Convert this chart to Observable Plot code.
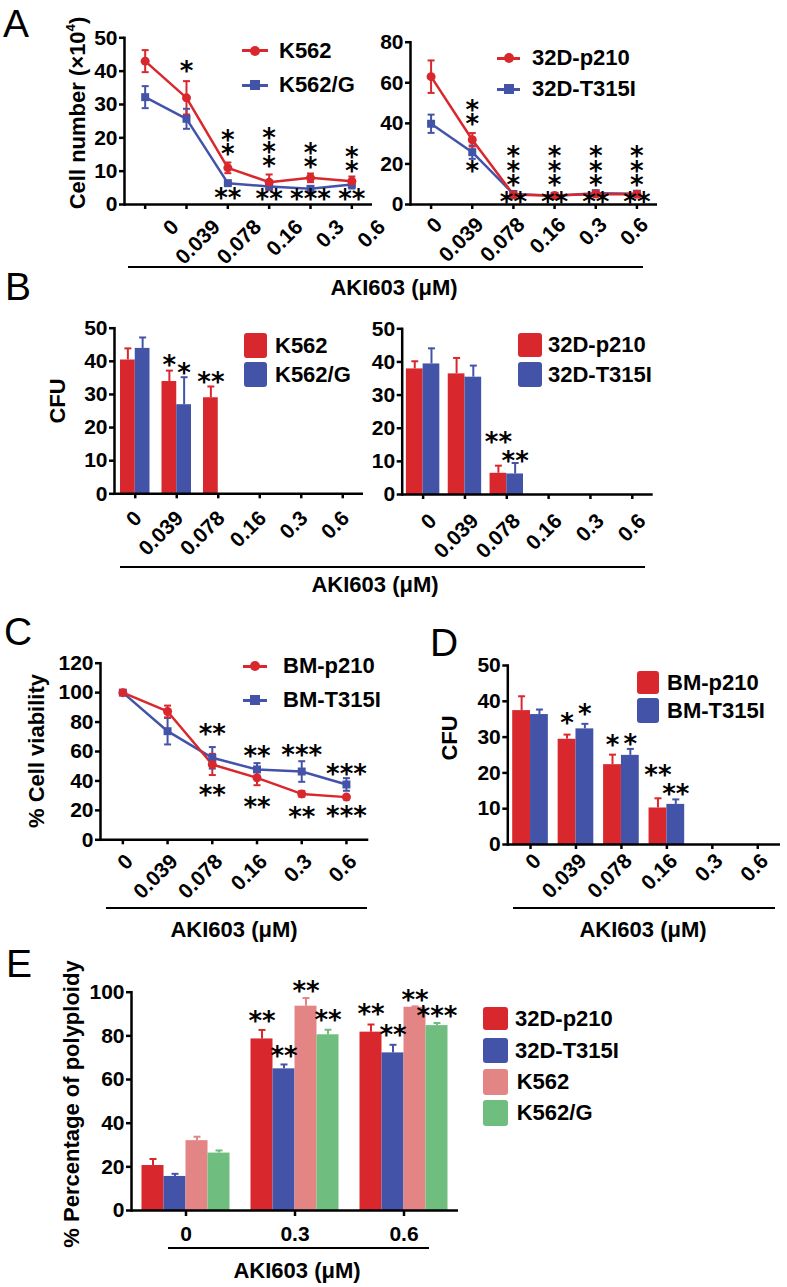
<!DOCTYPE html>
<html><head><meta charset="utf-8">
<script src="https://cdn.jsdelivr.net/npm/d3@7"></script>
<script src="https://cdn.jsdelivr.net/npm/@observablehq/plot@0.6"></script>
<style>
html,body{margin:0;padding:0;background:#fff}
#root{position:relative;width:787px;height:1287px;overflow:hidden;font-family:"Liberation Sans",Arial,Helvetica,sans-serif;color:#000}
#root > *{position:absolute}
</style></head><body><div id="root"></div>
<script>
// ---------- data ----------
const doses = ["0","0.039","0.078","0.16","0.3","0.6"];
// A: cell number (x10^4)
const cellK562 = [43, 32, 11, 6.7, 8, 7];
const cellK562Err = [3.3, 5, 1.6, 2.3, 1.3, 1.4];
const cellK562G = [32.2, 25.7, 6.4, 5.4, 4.7, 6];
const cellK562GErr = [3.3, 3, 0.6, 0.6, 0.6, 1.2];
const cellP210 = [63, 31.9, 4.8, 4.4, 5.2, 5];
const cellP210Err = [8, 3.3, 0.8, 0.8, 0.8, 0.8];
const cellT315I = [39.8, 25.8, 5.2, 4.3, 5.6, 5.3];
const cellT315IErr = [4.5, 3.3, 0.8, 0.6, 0.8, 0.6];
const starsA1 = [
  {dose:"0.039", y:40.7, t:"*"},
  {dose:"0.078", y:18, t:"*\n*"}, {dose:"0.078", y:2.6, t:"**"},
  {dose:"0.16", y:16.5, t:"*\n*\n*"}, {dose:"0.16", y:2.4, t:"**"},
  {dose:"0.3", y:14.2, t:"*\n*"}, {dose:"0.3", y:2.4, t:"***"},
  {dose:"0.6", y:13, t:"*\n*"}, {dose:"0.6", y:2.4, t:"**"}
];
const starsA2 = [
  {dose:"0.039", y:44.4, t:"*\n*"}, {dose:"0.039", y:17.6, t:"*"},
  {dose:"0.078", y:18, t:"*\n*\n*"}, {dose:"0.078", y:2.3, t:"**"},
  {dose:"0.16", y:18, t:"*\n*\n*"}, {dose:"0.16", y:2.3, t:"**"},
  {dose:"0.3", y:18, t:"*\n*\n*"}, {dose:"0.3", y:2.3, t:"**"},
  {dose:"0.6", y:18, t:"*\n*\n*"}, {dose:"0.6", y:2.3, t:"**"}
];
// B: CFU
const cfuK562 = [40.4, 33.9, 29, 0, 0, 0];
const cfuK562Err = [3.5, 3.3, 3.4, 0, 0, 0];
const cfuK562G = [43.9, 26.9, 0, 0, 0, 0];
const cfuK562GErr = [3.3, 8.3, 0, 0, 0, 0];
const cfuP210 = [37.9, 36.4, 6.4, 0, 0, 0];
const cfuP210Err = [2.3, 4.8, 2.3, 0, 0, 0];
const cfuT315I = [39.4, 35.4, 6.2, 0, 0, 0];
const cfuT315IErr = [4.7, 3.5, 3.3, 0, 0, 0];
const starsB1 = [
  {dose:"0.039", series:"K562", y:39.8, t:"*"},
  {dose:"0.039", series:"K562/G", y:37.4, t:"*"},
  {dose:"0.078", series:"K562", y:34.5, t:"**"}
];
const starsB2 = [
  {dose:"0.078", series:"32D-p210", y:16.5, t:"**"},
  {dose:"0.078", series:"32D-T315I", y:10.8, t:"**"}
];
// C: BM viability
const viaP210 = [100, 87.2, 51.2, 42.1, 31.2, 29];
const viaP210Err = [1, 4, 7.2, 5, 2, 1.5];
const viaT315I = [100, 73.8, 55.7, 47.8, 46.4, 37.6];
const viaT315IErr = [1, 9, 7.3, 4.3, 7, 4.3];
const starsC = [
  {dose:"0.078", y:73.8, t:"**"}, {dose:"0.078", y:31.9, t:"**"},
  {dose:"0.16", y:58.4, t:"**"}, {dose:"0.16", y:24, t:"**"},
  {dose:"0.3", y:59.1, t:"***"}, {dose:"0.3", y:17.2, t:"**"},
  {dose:"0.6", y:46.4, t:"***"}, {dose:"0.6", y:18.1, t:"***"}
];
// D: BM CFU
const bmCfuP210 = [37.4, 29.4, 22.3, 10.2, 0, 0];
const bmCfuP210Err = [4, 1.3, 2.8, 2.7, 0, 0];
const bmCfuT315I = [36.3, 32.3, 24.9, 11.2, 0, 0];
const bmCfuT315IErr = [1.4, 1.4, 1.8, 1.4, 0, 0];
const starsD = [
  {dose:"0.039", series:"BM-p210", y:34.6, t:"*"}, {dose:"0.039", series:"BM-T315I", y:37.2, t:"*"},
  {dose:"0.078", series:"BM-p210", y:28.4, t:"*"}, {dose:"0.078", series:"BM-T315I", y:28.8, t:"*"},
  {dose:"0.16", series:"BM-p210", y:20.2, t:"**"}, {dose:"0.16", series:"BM-T315I", y:14.8, t:"**"}
];
// E: polyploidy
const dosesE = ["0","0.3","0.6"];
const polyP210 = [20.6, 78.6, 81.7];
const polyP210Err = [3, 4.1, 3.5];
const polyT315I = [15.6, 64.9, 72.2];
const polyT315IErr = [1.2, 2, 3.7];
const polyK562 = [32, 93.6, 93.1];
const polyK562Err = [1.8, 3.7, 0.4];
const polyK562G = [26.3, 80.5, 84.7];
const polyK562GErr = [1.2, 2.3, 1.2];
const starsE = [
  {dose:"0.3", series:"32D-p210", y:88, t:"**"},
  {dose:"0.3", series:"32D-T315I", y:71.8, t:"**"},
  {dose:"0.3", series:"K562", y:101.8, t:"**"},
  {dose:"0.3", series:"K562/G", y:88.5, t:"**"},
  {dose:"0.6", series:"32D-p210", y:91.3, t:"**"},
  {dose:"0.6", series:"32D-T315I", y:81.4, t:"**"},
  {dose:"0.6", series:"K562", y:97.4, t:"**"},
  {dose:"0.6", series:"K562/G", y:90.4, t:"***"}
];

// ---------- style ----------
const RED="#d9282d", BLUE="#4354a8", PINK="#e48585", GREEN="#70be7f";
const FONT='"Liberation Sans", Arial, Helvetica, sans-serif';
const STARFONT='"DejaVu Sans", sans-serif';
const TICKFS=21;
const root=document.getElementById("root");
const capSymbol={draw(ctx){ctx.moveTo(-3.5,0);ctx.lineTo(3.5,0);}};

function put(el,left,top){el.style.left=left+"px";el.style.top=top+"px";root.appendChild(el);return el;}
function textAt(html,x,yMid,o={}){
  const fs=o.fs||22;
  const d=document.createElement("div");
  d.innerHTML=html;
  d.style.fontSize=fs+"px";d.style.lineHeight="1";d.style.whiteSpace="nowrap";
  d.style.fontWeight=o.weight||"bold";
  if(o.rotate){d.style.transform="translate(-50%,-50%) rotate(-90deg)";put(d,x,yMid);}
  else{if(o.anchor==="middle")d.style.transform="translateX(-50%)";put(d,x,yMid-0.4885*fs);}
  return d;
}
function hline(x0,x1,y,w=2.5){const d=document.createElement("div");d.style.width=(x1-x0)+"px";d.style.height=w+"px";d.style.background="#000";put(d,x0,y-w/2);}
function lineKey(x0,x1,y,color,shape,textX,label){
  const l=document.createElement("div");l.style.width=(x1-x0)+"px";l.style.height="3px";l.style.background=color;put(l,x0,y-1.5);
  const m=document.createElement("div");const s=10;m.style.width=s+"px";m.style.height=s+"px";m.style.background=color;
  if(shape==="circle")m.style.borderRadius="50%";put(m,(x0+x1)/2-s/2,y-s/2);
  textAt(label,textX,y,{fs:22});
}
function boxKey(x0,x1,y0,y1,color,textX,label){
  const b=document.createElement("div");b.style.width=(x1-x0)+"px";b.style.height=(y1-y0)+"px";b.style.background=color;b.style.borderRadius="3px";put(b,x0,y0);
  textAt(label,textX,(y0+y1)/2,{fs:22});
}

function frameOpts(c){return {width:c.w,height:c.h,marginLeft:c.x0-c.left,marginRight:c.left+c.w-c.x1,marginTop:c.y0-c.top,marginBottom:c.top+c.h-c.y1,
  style:{fontFamily:FONT,fontWeight:"bold",fontSize:TICKFS+"px",color:"#000",background:"transparent",overflow:"visible"}};}
function axes(c){
  return [
    Plot.ruleY([0],{strokeWidth:2.5}),
    Plot.frame({anchor:"left",strokeWidth:2.5}),
    Plot.axisY({ticks:c.yticks,tickSize:5,tickPadding:2,strokeWidth:2.5,label:null,fontSize:TICKFS,fontWeight:"bold",fontFamily:FONT}),
    Plot.axisX({tickSize:c.rotate===false?6:5,strokeWidth:2.5,tickFormat:()=>"",label:null}),
    c.rotate===false
      ? Plot.axisX({tickSize:0,tickPadding:c.tickPad,label:null,fontSize:TICKFS,fontWeight:"bold",fontFamily:FONT})
      : Plot.axisX({tickSize:0,tickPadding:c.tickPad,tickRotate:-45,dx:c.tickDx,label:null,fontSize:TICKFS,fontWeight:"bold",fontFamily:FONT})
  ];
}
function starMark(data,dx=0){
  return Plot.text(data,{x:"dose",y:"y",text:"t",fontFamily:STARFONT,fontSize:26,fontWeight:"bold",lineHeight:0.55,dx,dy:7,fill:"#000"});
}
function linePanel(c){
  const rows=[];
  c.series.forEach(s=>doses.forEach((d,i)=>rows.push({dose:d,value:s.values[i],err:s.errs[i],series:s.name})));
  const names=c.series.map(s=>s.name);
  const p=Plot.plot({...frameOpts(c),
    x:{type:"point",domain:doses,padding:0.5,round:false},
    y:{domain:[0,c.ymax]},
    color:{domain:names,range:c.series.map(s=>s.color)},
    symbol:{domain:names,range:c.series.map(s=>s.symbol)},
    marks:[...axes(c),
      Plot.ruleX(rows,{x:"dose",y1:d=>d.value-d.err,y2:d=>d.value+d.err,stroke:"series",strokeWidth:2}),
      Plot.dot(rows,{x:"dose",y:d=>d.value+d.err,symbol:capSymbol,stroke:"series",strokeWidth:2,r:3}),
      Plot.dot(rows,{x:"dose",y:d=>d.value-d.err,symbol:capSymbol,stroke:"series",strokeWidth:2,r:3}),
      Plot.line(rows,{x:"dose",y:"value",z:"series",stroke:"series",strokeWidth:2.5}),
      Plot.dot(rows,{x:"dose",y:"value",symbol:"series",fill:"series",r:4.5}),
      starMark(c.stars)
    ]});
  put(p,c.left,c.top);
}
function barPanel(c){
  const cats=c.cats,n=c.series.length;
  const step=(c.x1-c.x0)/cats.length,bw=(step-2*c.pad)/n;
  const marks=[];
  const starMarks=[];
  c.series.forEach((s,k)=>{
    const rows=cats.map((d,i)=>({dose:d,value:s.values[i],err:s.errs[i]})).filter(r=>r.value>0);
    const il=c.pad+k*bw,ir=step-c.pad-(k+1)*bw,off=-step/2+c.pad+(k+0.5)*bw;
    marks.push(Plot.barY(rows,{x:"dose",y:"value",fill:s.color,insetLeft:il,insetRight:ir}));
    marks.push(Plot.ruleX(rows,{x:"dose",y1:"value",y2:r=>r.value+r.err,stroke:s.color,strokeWidth:2,dx:off}));
    marks.push(Plot.dot(rows,{x:"dose",y:r=>r.value+r.err,symbol:capSymbol,stroke:s.color,strokeWidth:2,r:3,dx:off}));
    starMarks.push(starMark(c.stars.filter(t=>t.series===s.name),off));
  });
  const p=Plot.plot({...frameOpts(c),
    x:{type:"band",domain:cats,padding:0,round:false},
    y:{domain:[0,c.ymax]},
    marks:[...marks,...axes(c),...starMarks]});
  put(p,c.left,c.top);
}

// ---------- panel A ----------
linePanel({left:0,top:0,w:400,h:262,x0:124,x1:372,y0:37.3,y1:204,ymax:50,yticks:[0,10,20,30,40,50],tickDx:30,tickPad:19,
  series:[{name:"K562/G",values:cellK562G,errs:cellK562GErr,color:BLUE,symbol:"square"},
          {name:"K562",values:cellK562,errs:cellK562Err,color:RED,symbol:"circle"}],stars:starsA1});
linePanel({left:300,top:0,w:400,h:262,x0:410,x1:657,y0:41.7,y1:204,ymax:80,yticks:[0,20,40,60,80],tickDx:7.75,tickPad:16.75,
  series:[{name:"32D-T315I",values:cellT315I,errs:cellT315IErr,color:BLUE,symbol:"square"},
          {name:"32D-p210",values:cellP210,errs:cellP210Err,color:RED,symbol:"circle"}],stars:starsA2});
lineKey(242,268,50.7,RED,"circle",279,"K562");
lineKey(242,268,85,BLUE,"square",279,"K562/G");
lineKey(497,520,58,RED,"circle",532,"32D-p210");
lineKey(497,520,89,BLUE,"square",532,"32D-T315I");
textAt("Cell number (×10<sup style='font-size:0.6em;vertical-align:0.75em;line-height:0'>4</sup>)",78,113,{rotate:true,fs:22});
hline(128,643,267);
textAt("AKI603 (μM)",394,288,{anchor:"middle",fs:22});

// ---------- panel B ----------
barPanel({left:0,top:280,w:380,h:270,x0:114,x1:363,y0:327.7,y1:493.3,ymax:50,yticks:[0,10,20,30,40,50],pad:6,tickDx:3,tickPad:21,cats:doses,
  series:[{name:"K562",values:cfuK562,errs:cfuK562Err,color:RED},{name:"K562/G",values:cfuK562G,errs:cfuK562GErr,color:BLUE}],stars:starsB1});
barPanel({left:300,top:280,w:380,h:270,x0:401.7,x1:652.7,y0:328.3,y1:494,ymax:50,yticks:[0,10,20,30,40,50],pad:4.2,tickDx:10,tickPad:23,cats:doses,
  series:[{name:"32D-p210",values:cfuP210,errs:cfuP210Err,color:RED},{name:"32D-T315I",values:cfuT315I,errs:cfuT315IErr,color:BLUE}],stars:starsB2});
boxKey(244,267,333,358,RED,275,"K562");
boxKey(244,267,362,387,BLUE,275,"K562/G");
boxKey(518,542,333,357,RED,548,"32D-p210");
boxKey(518,542,362,387,BLUE,548,"32D-T315I");
textAt("CFU",58,401,{rotate:true,fs:22});
hline(120,645,567);
textAt("AKI603 (μM)",375,585,{anchor:"middle",fs:22});

// ---------- panel C ----------
linePanel({left:0,top:600,w:400,h:300,x0:100,x1:368.3,y0:662.7,y1:839.3,ymax:120,yticks:[0,20,40,60,80,100,120],tickDx:6.75,tickPad:18.25,
  series:[{name:"BM-T315I",values:viaT315I,errs:viaT315IErr,color:BLUE,symbol:"square"},
          {name:"BM-p210",values:viaP210,errs:viaP210Err,color:RED,symbol:"circle"}],stars:starsC});
lineKey(243,267,666,RED,"circle",283,"BM-p210");
lineKey(243,267,700,BLUE,"square",283,"BM-T315I");
textAt("% Cell viability",37,751,{rotate:true,fs:22});
hline(106,367,908);
textAt("AKI603 (μM)",234,930,{anchor:"middle",fs:22});

// ---------- panel D ----------
barPanel({left:400,top:600,w:387,h:300,x0:507.3,x1:780,y0:665,y1:844,ymax:50,yticks:[0,10,20,30,40,50],pad:4.9,tickDx:7,tickPad:13,cats:doses,
  series:[{name:"BM-p210",values:bmCfuP210,errs:bmCfuP210Err,color:RED},{name:"BM-T315I",values:bmCfuT315I,errs:bmCfuT315IErr,color:BLUE}],stars:starsD});
boxKey(637,659,671,694,RED,667,"BM-p210");
boxKey(637,659,698,723,BLUE,667,"BM-T315I");
textAt("CFU",450,738,{rotate:true,fs:22});
hline(513,775,908);
textAt("AKI603 (μM)",643,930,{anchor:"middle",fs:22});

// ---------- panel E ----------
barPanel({left:0,top:940,w:480,h:320,x0:131,x1:458,y0:991.7,y1:1210,ymax:100,yticks:[0,20,40,60,80,100],pad:10.5,rotate:false,tickPad:15.5,cats:dosesE,
  series:[{name:"32D-p210",values:polyP210,errs:polyP210Err,color:RED},{name:"32D-T315I",values:polyT315I,errs:polyT315IErr,color:BLUE},
          {name:"K562",values:polyK562,errs:polyK562Err,color:PINK},{name:"K562/G",values:polyK562G,errs:polyK562GErr,color:GREEN}],stars:starsE});
boxKey(483,508,1006.7,1030,RED,515,"32D-p210");
boxKey(483,508,1037.7,1063,BLUE,515,"32D-T315I");
boxKey(483,508,1069,1095,PINK,516.7,"K562");
boxKey(483,508,1100,1125.7,GREEN,516.7,"K562/G");
textAt("% Percentage of polyploidy",72,1104,{rotate:true,fs:22});
hline(168,429,1248);
textAt("AKI603 (μM)",297,1271,{anchor:"middle",fs:22});

// ---------- panel letters ----------
textAt("A",3,23.5,{fs:39,weight:"normal"});
textAt("B",5,286.5,{fs:39,weight:"normal"});
textAt("C",4,631,{fs:39,weight:"normal"});
textAt("D",430,642.5,{fs:39,weight:"normal"});
textAt("E",6,963,{fs:39,weight:"normal"});
</script></body></html>
